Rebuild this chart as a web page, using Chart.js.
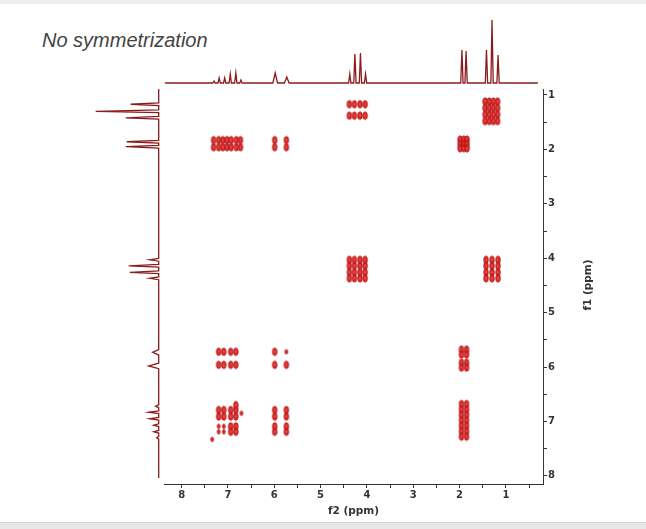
<!DOCTYPE html>
<html>
<head>
<meta charset="utf-8">
<script src="https://cdn.jsdelivr.net/npm/chart.js@4.4.1/dist/chart.umd.min.js"></script>
<style>
  html, body { margin: 0; padding: 0; }
  body { width: 646px; height: 529px; position: relative; overflow: hidden; background: #ffffff; }
  #stripTop { position: absolute; left: 0; top: 0; width: 646px; height: 4px; background: #eeeeee; }
  #stripBot { position: absolute; left: 0; top: 522px; width: 646px; height: 7px; background: #e8e8e8; border-top: 1px solid #d4d4d4; }
  #title { position: absolute; left: 42px; top: 29px; font-family: "Liberation Sans", Arial, sans-serif; font-style: italic; font-size: 20px; color: #444; white-space: nowrap; }
  canvas { position: absolute; }
</style>
</head>
<body>
<div id="stripTop"></div>
<div id="stripBot"></div>
<div id="title">No symmetrization</div>
<canvas id="main" width="646" height="529" style="left:0;top:0"></canvas>
<canvas id="topSpec" width="379" height="67" style="left:164px;top:18px"></canvas>
<canvas id="leftSpec" width="66" height="389" style="left:94px;top:89px"></canvas>
<script>
// ---------------- DATA ----------------
// 1D proton spectrum: peak positions (ppm), heights (relative), half line widths (ppm)
const peakPpm    = [7.30, 7.19, 7.07, 6.95, 6.83, 6.72, 5.98, 5.73, 4.37, 4.26, 4.14, 4.03, 1.95, 1.86, 1.42, 1.30, 1.17];
const peakHeight = [2,    5,    5,    9,    10,   3,    10,   6,    9,    29,   30,   9,    33,   32,   33,   63,   28];
const peakHalfW  = [0.025,0.025,0.025,0.025,0.025,0.025,0.05, 0.05, 0.025,0.025,0.025,0.025,0.025,0.025,0.025,0.025,0.025];

// axis ticks
const f2Ticks = [8, 7.5, 7, 6.5, 6, 5.5, 5, 4.5, 4, 3.5, 3, 2.5, 2, 1.5, 1, 0.5];
const f1Ticks = [1, 1.5, 2, 2.5, 3, 3.5, 4, 4.5, 5, 5.5, 6, 6.5, 7, 7.5, 8];

// cross-peak multiplet lines (ppm): columns along f2, rows along f1
const colArom7  = [7.31, 7.20, 7.11, 7.02, 6.93, 6.82, 6.73];
const colArom4  = [7.20, 7.09, 6.94, 6.83];
const colVinyl  = [5.99, 5.74];
const colCH2    = [4.38, 4.27, 4.15, 4.04];
const colMe     = [1.96, 1.85];
const colDiagMe = [1.99, 1.91, 1.84];
const colCH3    = [1.45, 1.36, 1.27, 1.18];
const colCH3b   = [1.43, 1.30, 1.17];

const rowCH3      = [1.17, 1.38];
const rowDiagCH3  = [1.12, 1.24, 1.36, 1.48];
const rowMe       = [1.83, 1.96];
const rowDiagMe   = [1.82, 1.90, 1.98];
const rowCH2      = [4.03, 4.14, 4.26, 4.37];
const rowVinylA   = [5.72, 5.96];
const rowVinylB   = [5.68, 5.77, 5.92, 6.01];
const rowArom     = [6.79, 6.91, 7.09, 7.19];
const rowAromDense= [6.68, 6.78, 6.88, 6.98, 7.08, 7.18, 7.28];

// individually read weak / odd contour spots [f2, f1]
const strongSpots = [[6.94,6.79],[6.83,6.79],[6.94,6.91],[6.83,6.91],[7.20,6.79],[7.09,6.79],[7.20,6.91],[7.09,6.91],[6.83,6.70],[6.94,7.09],[6.83,7.09],[6.94,7.19],[6.83,7.19],[5.99,5.72],[5.99,5.96],[5.74,5.96]];
const weakSpots   = [[7.20,7.09],[7.09,7.09],[7.20,7.19],[7.09,7.19],[6.71,6.85],[5.74,5.72],[7.34,7.33]];

// ---------------- BUILD ----------------
const SPEC = '#8c1c1c';

function traceFromPeaks(start, end) {
  const idx = peakPpm.map((_, i) => i).sort((a, b) => peakPpm[a] - peakPpm[b]);
  const pts = [[Math.min(start, end), 0]];
  idx.forEach(i => {
    pts.push([peakPpm[i] - peakHalfW[i], 0]);
    pts.push([peakPpm[i], peakHeight[i]]);
    pts.push([peakPpm[i] + peakHalfW[i], 0]);
  });
  pts.push([Math.max(start, end), 0]);
  return pts;
}

function grid(cols, rows) {
  const out = [];
  cols.forEach(c => rows.forEach(r => out.push({x: c, y: r})));
  return out;
}

const gridPairs = [
  [colCH2, rowCH3], [colCH3, rowDiagCH3], [colArom7, rowMe], [colVinyl, rowMe],
  [colDiagMe, rowDiagMe], [colCH2, rowCH2], [colCH3b, rowCH2],
  [colArom4, rowVinylA], [colMe, rowVinylB], [colVinyl, rowArom], [colMe, rowAromDense]
];
let contourPts = [];
gridPairs.forEach(p => { contourPts = contourPts.concat(grid(p[0], p[1])); });
contourPts = contourPts.concat(strongSpots.map(s => ({x: s[0], y: s[1]})));
const weakPts = weakSpots.map(s => ({x: s[0], y: s[1]}));

function contourImage(rx, ry, hole) {
  const c = document.createElement('canvas');
  c.width = Math.ceil(rx * 2 + 3); c.height = Math.ceil(ry * 2 + 3);
  const g = c.getContext('2d');
  const cx = c.width / 2, cy = c.height / 2;
  g.beginPath(); g.ellipse(cx, cy, rx, ry, 0, 0, Math.PI * 2);
  g.fillStyle = 'rgba(214,34,34,0.95)'; g.fill();
  g.lineWidth = 0.9; g.strokeStyle = 'rgba(180,22,22,0.9)'; g.stroke();
  if (hole) {
    g.beginPath(); g.ellipse(cx, cy, rx * 0.3, ry * 0.3, 0, 0, Math.PI * 2);
    g.fillStyle = 'rgba(238,120,120,0.6)'; g.fill();
  }
  return c;
}
const imgStrong = contourImage(2.3, 3.8, true);
const imgWeak = contourImage(1.4, 2.3, false);

// ---------------- MAIN 2D CHART ----------------
const tickFont = {family: 'DejaVu Sans', size: 10, weight: 'bold'};
const f1TitlePlugin = {
  id: 'f1title',
  afterDraw(chart) {
    const ctx = chart.ctx;
    ctx.save();
    ctx.translate(588, 285);
    ctx.rotate(-Math.PI / 2);
    ctx.font = 'bold 10.5px "DejaVu Sans"';
    ctx.fillStyle = '#333';
    ctx.textAlign = 'center';
    ctx.textBaseline = 'middle';
    ctx.fillText('f1 (ppm)', 0, 0);
    ctx.restore();
  }
};

new Chart(document.getElementById('main'), {
  type: 'scatter',
  data: {
    datasets: [
      {data: contourPts, pointStyle: imgStrong, pointRadius: 4, clip: false},
      {data: weakPts, pointStyle: imgWeak, pointRadius: 3, clip: false}
    ]
  },
  options: {
    responsive: false, animation: false, devicePixelRatio: 1,
    layout: {padding: {left: 164, top: 89, right: 0, bottom: 0}},
    plugins: {legend: {display: false}, tooltip: {enabled: false}},
    scales: {
      x: {
        type: 'linear', position: 'bottom', reverse: true, min: 0.20, max: 8.38,
        afterFit: s => { s.height = 45; },
        afterBuildTicks: s => { s.ticks = f2Ticks.map(v => ({value: v})); },
        ticks: {font: tickFont, color: '#333', padding: 1, autoSkip: false, maxRotation: 0,
                callback: v => Number.isInteger(v) ? String(v) : ''},
        grid: {drawOnChartArea: false, drawTicks: true, tickLength: 4, color: '#333'},
        border: {display: true, color: '#333', width: 1},
        title: {display: true, text: 'f2 (ppm)', color: '#333',
                font: {family: 'DejaVu Sans', size: 10.5, weight: 'bold'}, padding: {top: 0, bottom: 11}}
      },
      y: {
        type: 'linear', position: 'right', reverse: true, min: 0.89, max: 8.15,
        afterFit: s => { s.width = 103; },
        afterBuildTicks: s => { s.ticks = f1Ticks.map(v => ({value: v})); },
        ticks: {font: tickFont, color: '#333', padding: 1, autoSkip: false,
                callback: v => Number.isInteger(v) ? String(v) : ''},
        grid: {drawOnChartArea: false, drawTicks: true, tickLength: 4, color: '#333'},
        border: {display: true, color: '#333', width: 1}
      }
    }
  },
  plugins: [f1TitlePlugin]
});

// ---------------- TOP 1D SPECTRUM ----------------
new Chart(document.getElementById('topSpec'), {
  type: 'scatter',
  data: {datasets: [{
    data: traceFromPeaks(8.36, 0.31).map(p => ({x: p[0], y: p[1]})),
    showLine: true, pointRadius: 0, borderColor: SPEC, borderWidth: 1.3, clip: false
  }]},
  options: {
    responsive: false, animation: false, devicePixelRatio: 1,
    layout: {padding: 0},
    plugins: {legend: {display: false}, tooltip: {enabled: false}},
    scales: {
      x: {type: 'linear', reverse: true, min: 0.20, max: 8.38, display: false},
      y: {type: 'linear', min: -2, max: 65, display: false}
    }
  }
});

// ---------------- LEFT 1D SPECTRUM ----------------
new Chart(document.getElementById('leftSpec'), {
  type: 'scatter',
  data: {datasets: [{
    data: traceFromPeaks(0.89, 8.04).map(p => ({x: p[1], y: p[0]})),
    showLine: true, pointRadius: 0, borderColor: SPEC, borderWidth: 1.3, clip: false
  }]},
  options: {
    responsive: false, animation: false, devicePixelRatio: 1,
    layout: {padding: 0},
    plugins: {legend: {display: false}, tooltip: {enabled: false}},
    scales: {
      x: {type: 'linear', reverse: true, min: -1.3, max: 64.7, display: false},
      y: {type: 'linear', reverse: true, min: 0.89, max: 8.04, display: false}
    }
  }
});
</script>
</body>
</html>
